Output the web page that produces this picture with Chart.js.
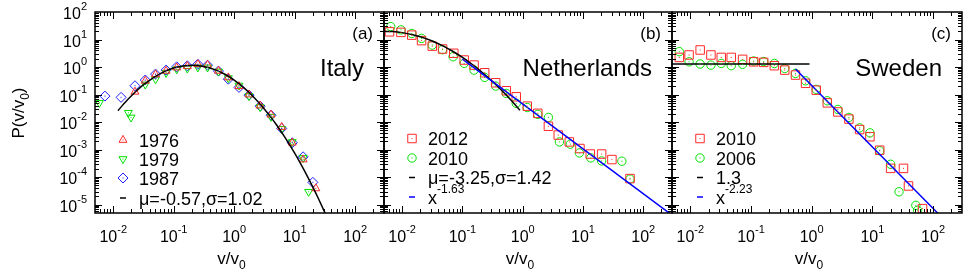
<!DOCTYPE html>
<html><head><meta charset="utf-8">
<script src="https://cdn.jsdelivr.net/npm/chart.js@4/dist/chart.umd.min.js"></script>
<style>
html,body{margin:0;padding:0;background:#fff;}
#wrap{position:relative;width:975px;height:279px;background:#fff;}
canvas{position:absolute;left:0;top:0;}
</style></head><body>
<div id="wrap">
<canvas id="ca" width="975" height="279"></canvas>
<canvas id="cb" width="975" height="279"></canvas>
<canvas id="cc" width="975" height="279"></canvas>
</div>
<script>
// ---------- axis ticks ----------
const xTickExps = [-2, -1, 0, 1, 2];
const yTickExps = [2, 1, 0, -1, -2, -3, -4, -5];
const xMin = 0.005, xMax = 300, yMin = 5e-6, yMax = 100;

// ---------- (a) Italy ----------
const italy1976X = [0.0229,0.0339,0.0501,0.0748,0.112,0.168,0.251,0.363,0.550,0.80,1.20,1.76,2.69,4.07,6.11,9.12,13.8,22.4];
const italy1976Y = [0.126,0.316,0.537,0.724,0.955,1.07,1.26,1.20,0.724,0.417,0.200,0.100,0.0398,0.0186,0.0066,0.00178,0.000437,3.9e-5];
const italy1979X = [0.0059,0.0178,0.0197,0.0339,0.0501,0.0748,0.112,0.168,0.251,0.363,0.550,0.80,1.20,1.76,2.69,4.07,6.11,9.12,13.8,17.0];
const italy1979Y = [0.0501,0.0219,0.0148,0.234,0.363,0.617,0.832,0.891,0.977,0.977,0.692,0.398,0.214,0.0891,0.0355,0.0158,0.00575,0.00191,0.000501,2.95e-5];
const italy1987X = [0.0073,0.0135,0.0229,0.0339,0.0501,0.0748,0.112,0.168,0.251,0.363,0.550,0.80,1.20,1.76,2.69,4.07,6.11,9.12,13.8,20.0];
const italy1987Y = [0.0881,0.0794,0.209,0.339,0.556,0.776,1.02,1.11,1.26,1.17,0.716,0.363,0.182,0.0955,0.038,0.0178,0.00589,0.00178,0.00055,6.5e-5];
const italyFitX = [0.012,0.015,0.02,0.03,0.05,0.07,0.1,0.15,0.2,0.3,0.5,0.7,1,1.5,2,3,4,5,7,10,13,15,20,25,30,35];
const italyFitY = [0.026,0.0464,0.0912,0.2065,0.462,0.686,0.924,1.119,1.164,1.075,0.777,0.547,0.335,0.165,0.0909,0.0342,0.01555,0.0080,0.00267,0.000741,0.000267,0.000149,4.34e-5,1.58e-5,6.66e-6,3.13e-6];

// ---------- (b) Netherlands ----------
const neth2012X = [0.00617,0.00955,0.01445,0.0210,0.0316,0.0468,0.0719,0.107,0.156,0.234,0.356,0.535,0.782,1.19,1.78,2.67,3.89,5.94,8.91,13.2,20.4,30.2,60.3];
const neth2012Y = [19.05,18.2,14.45,9.12,5.75,4.52,3.16,1.80,1.18,0.621,0.269,0.138,0.0832,0.038,0.0209,0.00708,0.00339,0.00191,0.0011,0.000692,0.000692,0.000437,8.9e-5];
const neth2010X = [0.00646,0.00955,0.01445,0.0210,0.0316,0.0468,0.070,0.107,0.156,0.234,0.356,0.535,0.782,1.19,1.78,2.67,4.07,6.17,8.71,13.5,20.4,44.2,60.3];
const neth2010Y = [29.5,22.4,16.6,11.0,6.31,4.27,2.37,1.365,0.776,0.422,0.204,0.110,0.0479,0.0339,0.0191,0.0148,0.00191,0.00158,0.000759,0.000501,0.000389,0.00038,8.5e-5];
const nethFitX = [0.005,0.007,0.01,0.015,0.02,0.03,0.05,0.07,0.1,0.15,0.2,0.3,0.5,0.7,0.9];
const nethFitY = [19.86,19.4,17.82,14.98,12.6,9.21,5.53,3.68,2.249,1.189,0.7205,0.3317,0.1111,0.0503,0.0269];
const nethPowX = [0.1, 300];
const nethPowY = [1.95, 4.19e-6];

// ---------- (c) Sweden ----------
const swe2010X = [0.0066,0.00955,0.01455,0.0219,0.0324,0.0473,0.0728,0.1107,0.162,0.243,0.360,0.541,0.794,1.19,1.81,2.70,4.11,6.17,9.12,13.2,20.0,32.6,39.4,67.1];
const swe2010Y = [2.24,2.75,4.17,2.75,2.24,2.24,1.905,1.55,1.48,1.12,0.776,0.513,0.257,0.145,0.0501,0.0234,0.0129,0.00537,0.00295,0.000955,0.000209,0.000209,4.8e-5,7.2e-6];
const swe2006X = [0.0066,0.00955,0.01455,0.0219,0.0324,0.0473,0.0728,0.1107,0.162,0.243,0.360,0.541,0.794,1.19,1.81,2.70,4.11,6.17,9.12,13.2,20.0,27.5,52.1,55.6];
const swe2006Y = [3.63,1.55,1.29,1.175,1.35,1.12,1.26,1.66,1.585,1.35,0.891,0.589,0.316,0.155,0.0596,0.0288,0.0148,0.00617,0.00407,0.000912,0.000295,2.95e-5,9.5e-6,6.3e-6];
const sweFlatX = [0.005, 0.92];
const sweFlatY = [1.3, 1.3];
const swePowX = [0.54, 120];
const swePowY = [0.845, 4.9e-6];

// ---------- styling / helpers ----------
const FONT = '"Liberation Sans", Arial, Helvetica, sans-serif';
const RED = 'rgb(255,40,40)', GREEN = 'rgb(0,225,0)', BLUE = 'rgb(30,30,255)';
const pts = (xs, ys) => xs.map((x, i) => ({x: x, y: ys[i]}));

function scatterSet(label, xs, ys, color, style, radius, rot) {
  return {label, data: pts(xs, ys), showLine: false, borderColor: color, backgroundColor: 'rgba(0,0,0,0)',
    pointStyle: style, pointRadius: radius, pointRotation: rot || 0, pointBorderWidth: 1, pointHoverRadius: radius, dot: true};
}
function lineSet(label, xs, ys, color, smooth) {
  return {label, data: pts(xs, ys), showLine: true, borderColor: color, borderWidth: 1.5, pointRadius: 0,
    pointHoverRadius: 0, cubicInterpolationMode: smooth ? 'monotone' : 'default', tension: 0, fill: false};
}

function richWidth(ctx, segs, size) {
  let w = 0;
  segs.forEach(s => { ctx.font = ((s.sup || s.sub) ? Math.round(size * 0.68) : size) + 'px ' + FONT; w += ctx.measureText(s.t).width; });
  return w;
}
function drawRich(ctx, segs, x, y, size, align) {
  const w = richWidth(ctx, segs, size);
  let cx = align === 'right' ? x - w : align === 'center' ? x - w / 2 : x;
  ctx.textBaseline = 'alphabetic'; ctx.textAlign = 'left'; ctx.fillStyle = '#000';
  segs.forEach(s => {
    const fs = (s.sup || s.sub) ? Math.round(size * 0.68) : size;
    ctx.font = fs + 'px ' + FONT;
    const dy = s.sup ? -size * 0.56 : s.sub ? size * 0.28 : 0;
    ctx.fillText(s.t, cx, y + dy);
    cx += ctx.measureText(s.t).width;
  });
}

const framePlugin = {
  id: 'frame',
  afterDatasetsDraw(chart) {
    const ctx = chart.ctx;
    chart.data.datasets.forEach((ds, i) => {
      if (!ds.dot) return;
      const meta = chart.getDatasetMeta(i);
      ctx.save();
      ctx.beginPath(); ctx.rect(chart.chartArea.left, chart.chartArea.top, chart.chartArea.width, chart.chartArea.height); ctx.clip();
      ctx.fillStyle = ds.borderColor;
      meta.data.forEach(el => { ctx.fillRect(el.x - 0.5, el.y - 0.5, 1, 1); });
      ctx.restore();
    });
  },
  afterDraw(chart) {
    const ctx = chart.ctx, a = chart.chartArea, xs = chart.scales.x, ys = chart.scales.y;
    const deco = chart.options.plugins.frame;
    ctx.save();
    ctx.strokeStyle = '#000'; ctx.lineWidth = 1;
    ctx.beginPath();
    for (let e = -3; e <= 3; e++) for (let m = 1; m <= 9; m++) {
      const v = m * Math.pow(10, e);
      const len = m === 1 ? 7 : 4;
      if (v > xMin && v < xMax) {
        const px = Math.round(xs.getPixelForValue(v)) + 0.5;
        ctx.moveTo(px, a.bottom); ctx.lineTo(px, a.bottom - len);
        ctx.moveTo(px, a.top); ctx.lineTo(px, a.top + len);
      }
    }
    for (let e = -6; e <= 2; e++) for (let m = 1; m <= 9; m++) {
      const v = m * Math.pow(10, e);
      const len = m === 1 ? 7 : 4;
      if (v > yMin && v < yMax) {
        const py = Math.round(ys.getPixelForValue(v)) + 0.5;
        ctx.moveTo(a.left, py); ctx.lineTo(a.left + len, py);
        ctx.moveTo(a.right, py); ctx.lineTo(a.right - len, py);
      }
    }
    ctx.stroke();
    ctx.lineWidth = 1.5;
    ctx.strokeRect(a.left, a.top, a.right - a.left, a.bottom - a.top);

    xTickExps.forEach(e => {
      const px = xs.getPixelForValue(Math.pow(10, e));
      drawRich(ctx, [{t: '10'}, {t: e < 0 ? '-' + (-e) : String(e), sup: true}], px, 242, 16, 'center');
    });
    drawRich(ctx, [{t: 'v/v'}, {t: '0', sub: true}], (a.left + a.right) / 2 - 8, 264, 17, 'center');

    if (deco.yLabels) {
      yTickExps.forEach(e => {
        const py = ys.getPixelForValue(Math.pow(10, e));
        drawRich(ctx, [{t: '10'}, {t: e < 0 ? '-' + (-e) : String(e), sup: true}], 87, py + 7, 16, 'right');
      });
      ctx.save();
      ctx.translate(24, 113); ctx.rotate(-Math.PI / 2);
      drawRich(ctx, [{t: 'P(v/v'}, {t: '0', sub: true}, {t: ')'}], 0, 0, 17, 'center');
      ctx.restore();
    }
    drawRich(ctx, [{t: deco.tag}], a.right - 11, 39, 17, 'right');
    drawRich(ctx, [{t: deco.name}], a.right - 20, 76, 24, 'right');

    const lx = a.left + 28, tx = a.left + 44;
    deco.legend.forEach((it, k) => {
      const ry = deco.rows[k];
      if (it.kind === 'point') {
        ctx.fillStyle = 'rgba(0,0,0,0)';
        ctx.strokeStyle = it.color; ctx.lineWidth = 1;
        Chart.helpers.drawPoint(ctx, {pointStyle: it.style, radius: it.r, rotation: it.rot || 0, borderWidth: 1}, lx, ry);
        ctx.fillStyle = it.color; ctx.fillRect(lx - 0.5, ry - 0.5, 1, 1);
      } else {
        ctx.strokeStyle = it.color; ctx.lineWidth = 1.5;
        ctx.beginPath(); ctx.moveTo(lx - 3, ry); ctx.lineTo(lx + 3, ry); ctx.stroke();
      }
      drawRich(ctx, it.text, tx, ry + 6.5, 18, 'left');
    });
    ctx.restore();
  }
};

function makePanel(id, left, right, datasets, deco) {
  return new Chart(document.getElementById(id), {
    type: 'scatter',
    data: {datasets},
    options: {
      responsive: false, animation: false, devicePixelRatio: 1,
      layout: {padding: {left: left, right: 975 - right, top: 12, bottom: 279 - 213}},
      scales: {
        x: {type: 'logarithmic', min: xMin, max: xMax, display: false},
        y: {type: 'logarithmic', min: yMin, max: yMax, display: false}
      },
      plugins: {legend: {display: false}, tooltip: {enabled: false}, frame: deco}
    },
    plugins: [framePlugin]
  });
}

makePanel('ca', 95, 384, [
  lineSet('μ=-0.57,σ=1.02', italyFitX, italyFitY, '#000', true),
  scatterSet('1976', italy1976X, italy1976Y, RED, 'triangle', 4.6, 0),
  scatterSet('1979', italy1979X, italy1979Y, GREEN, 'triangle', 4.6, 180),
  scatterSet('1987', italy1987X, italy1987Y, BLUE, 'rectRot', 5, 0)
], {
  yLabels: true, tag: '(a)', name: 'Italy', rows: [140, 159, 178, 198],
  legend: [
    {kind: 'point', style: 'triangle', r: 4.6, color: RED, text: [{t: '1976'}]},
    {kind: 'point', style: 'triangle', r: 4.6, rot: 180, color: GREEN, text: [{t: '1979'}]},
    {kind: 'point', style: 'rectRot', r: 5, color: BLUE, text: [{t: '1987'}]},
    {kind: 'line', color: '#000', text: [{t: 'μ=-0.57,σ=1.02'}]}
  ]
});

makePanel('cb', 384, 672, [
  lineSet('x^-1.63', nethPowX, nethPowY, 'rgb(0,0,255)', false),
  lineSet('μ=-3.25,σ=1.42', nethFitX, nethFitY, '#000', true),
  scatterSet('2012', neth2012X, neth2012Y, RED, 'rect', 6, 0),
  scatterSet('2010', neth2010X, neth2010Y, GREEN, 'circle', 4.2, 0)
], {
  yLabels: false, tag: '(b)', name: 'Netherlands', rows: [138.5, 158, 177.5, 197],
  legend: [
    {kind: 'point', style: 'rect', r: 6, color: RED, text: [{t: '2012'}]},
    {kind: 'point', style: 'circle', r: 4.2, color: GREEN, text: [{t: '2010'}]},
    {kind: 'line', color: '#000', text: [{t: 'μ=-3.25,σ=1.42'}]},
    {kind: 'line', color: 'rgb(0,0,255)', text: [{t: 'x'}, {t: '-1.63', sup: true}]}
  ]
});

makePanel('cc', 672, 962, [
  lineSet('1.3', sweFlatX, sweFlatY, '#000', false),
  lineSet('x^-2.23', swePowX, swePowY, 'rgb(0,0,255)', false),
  scatterSet('2010', swe2010X, swe2010Y, RED, 'rect', 6, 0),
  scatterSet('2006', swe2006X, swe2006Y, GREEN, 'circle', 4.2, 0)
], {
  yLabels: false, tag: '(c)', name: 'Sweden', rows: [138.5, 158, 177.5, 197],
  legend: [
    {kind: 'point', style: 'rect', r: 6, color: RED, text: [{t: '2010'}]},
    {kind: 'point', style: 'circle', r: 4.2, color: GREEN, text: [{t: '2006'}]},
    {kind: 'line', color: '#000', text: [{t: '1.3'}]},
    {kind: 'line', color: 'rgb(0,0,255)', text: [{t: 'x'}, {t: '-2.23', sup: true}]}
  ]
});
</script>
</body></html>
